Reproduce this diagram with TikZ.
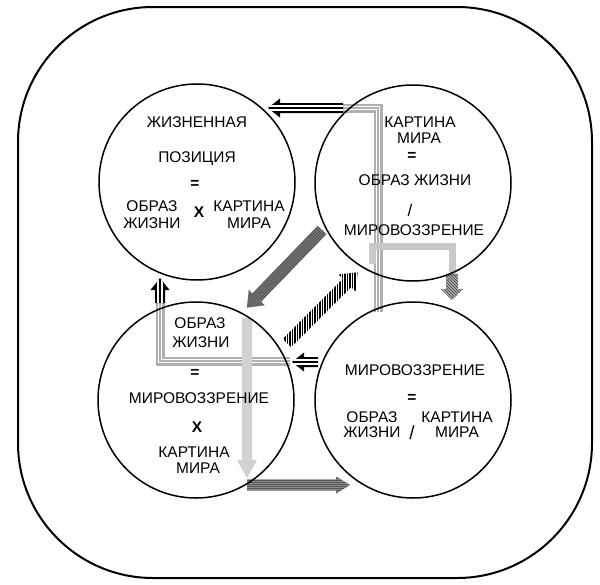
\documentclass[tikz,border=0pt]{standalone}
\usepackage{fontspec}
\setmainfont{Liberation Sans}
\newcommand{\blkarr}[4]{(0,-#2) -- ({#1-#4},-#2) -- ({#1-#4},-#3) -- (#1,0) -- ({#1-#4},#3) -- ({#1-#4},#2) -- (0,#2) -- cycle}
\definecolor{bandgrey}{HTML}{B0B0B0}
\definecolor{lgrey}{HTML}{C8C8C8}
\definecolor{vlgrey}{HTML}{D2D2D2}
\definecolor{dgrey}{HTML}{555555}
\definecolor{texgrey}{HTML}{8C8C8C}
\definecolor{hatchgrey}{HTML}{4A4A4A}
\newcommand{\stripedblack}[4]{%
  \begin{scope}[shift={(#1,#2)},rotate=#3]
    \fill[black] \blkarr{#4}{5}{9.5}{12};
    \begin{scope}
      \clip \blkarr{#4}{5}{9.5}{12};
      \draw[white, line width=1.1] (0,-2) -- (#4,-2) (0,2) -- (#4,2);
    \end{scope}
  \end{scope}}
\newcommand{\darkarr}[6]{%
  \begin{scope}[shift={(#1,#2)},rotate=#3]
    \fill[dgrey] \blkarr{#4}{#5}{#6}{14};
    \begin{scope}
      \clip \blkarr{#4}{#5}{#6}{14};
      \foreach \k in {-12,-10,...,12} \draw[texgrey, line width=0.5] (0,\k) -- (#4,\k);
    \end{scope}
  \end{scope}}
\tikzset{
  band/.style={line width=9, draw=bandgrey, line join=miter,
    postaction={draw=white, line width=4.6},
    postaction={draw=bandgrey, line width=2.2}},
  lbl/.style={font=\fontsize{15.5}{17}\selectfont, inner sep=0, anchor=base},
  ring/.style={circle, draw, line width=1.5, minimum size=196, inner sep=0},
}
\begin{document}
\begin{tikzpicture}[x=1pt,y=-1pt]
\useasboundingbox (0,0) rectangle (600,584);
\fill[white] (0,0) rectangle (600,584);
\draw[rounded corners=135, line width=2] (18,7) rectangle (592,578);

% grey bands (shafts)
\coordinate (a0) at (378,312);
\coordinate (a1) at (378,108);
\coordinate (a2) at (343,108);
\draw[band] (a0) -- (a1) -- (a2);
\coordinate (b0) at (290,361);
\coordinate (b1) at (160,361);
\coordinate (b2) at (160,303);
\draw[band] (b0) -- (b1) -- (b2);

% thick grey L (TR -> BR)
\coordinate (c0) at (372,264);
\coordinate (c1) at (372,246);
\coordinate (c2) at (452,246);
\coordinate (c3) at (452,276);
\draw[lgrey, line width=7, line join=miter] (c0) -- (c1) -- (c2) -- (c3);
\begin{scope}
  \clip[shift={(452,274)},rotate=-90] \blkarr{26}{6}{11}{11};
  \foreach \i in {-40,-37,...,40} \draw[hatchgrey, line width=1.3] (452+\i-20,264) -- (452+\i+20,304);
\end{scope}

% black striped arrows
\stripedblack{343}{108}{180}{75}
\stripedblack{318}{362}{180}{26}
\stripedblack{160}{303}{90}{25}

% dark hatched arrows
\darkarr{322}{230}{-134}{108}{6}{11}
\darkarr{247}{485}{0}{103}{5.5}{8.5}

% black vertical-striped diagonal arrow
\begin{scope}
  \clip[shift={(287,343)},rotate=45] \blkarr{100}{6}{12}{15};
  \foreach \i in {270,272.5,...,372} \draw[black,line width=1.2] (\i,255) -- (\i,360);
\end{scope}

% light grey vertical arrow
\fill[vlgrey, shift={(247,318)}, rotate=-90] \blkarr{160}{5}{10}{18};

% circles
\node[ring] (tl) at (197,182) {};
\node[ring] (tr) at (413,183) {};
\node[ring] (bl) at (196,400) {};
\node[ring] (br) at (413,400) {};

% texts TL
\node[lbl] (t1) at (197,127) {ЖИЗНЕННАЯ};
\node[lbl] (t2) at (197,162) {ПОЗИЦИЯ};
\node[lbl] (t3) at (195,188) {\textbf{=}};
\node[lbl] (t4) at (152,211) {ОБРАЗ};
\node[lbl] (t5) at (152,228) {ЖИЗНИ};
\node[lbl] (t6) at (199,217) {\textbf{X}};
\node[lbl] (t7) at (249,211) {КАРТИНА};
\node[lbl] (t8) at (249,228) {МИРА};
% texts TR
\node[lbl] (r1) at (420,127) {КАРТИНА};
\node[lbl] (r2) at (419,143) {МИРА};
\node[lbl] (r3) at (412,160) {\textbf{=}};
\node[lbl] (r4) at (415,185) {ОБРАЗ ЖИЗНИ};
\node[lbl,font=\fontsize{17}{17}\selectfont] (r5) at (410,216) {/};
\node[lbl] (r6) at (414,235) {МИРОВОЗЗРЕНИЕ};
% texts BL
\node[lbl] (l1) at (200,328) {ОБРАЗ};
\node[lbl] (l2) at (201,347) {ЖИЗНИ};
\node[lbl] (l3) at (195,377) {\textbf{=}};
\node[lbl] (l4) at (199,403) {МИРОВОЗЗРЕНИЕ};
\node[lbl] (l5) at (197,432) {\textbf{X}};
\node[lbl] (l6) at (194,457) {КАРТИНА};
\node[lbl] (l7) at (198,473) {МИРА};
% texts BR
\node[lbl] (m1) at (415,375) {МИРОВОЗЗРЕНИЕ};
\node[lbl] (m2) at (412,402) {\textbf{=}};
\node[lbl] (m3) at (372,422) {ОБРАЗ};
\node[lbl] (m4) at (372,437) {ЖИЗНИ};
\node[lbl,font=\fontsize{19}{19}\selectfont] (m5) at (412,439) {/};
\node[lbl] (m6) at (457,422) {КАРТИНА};
\node[lbl] (m7) at (457,437) {МИРА};
\end{tikzpicture}
\end{document}
